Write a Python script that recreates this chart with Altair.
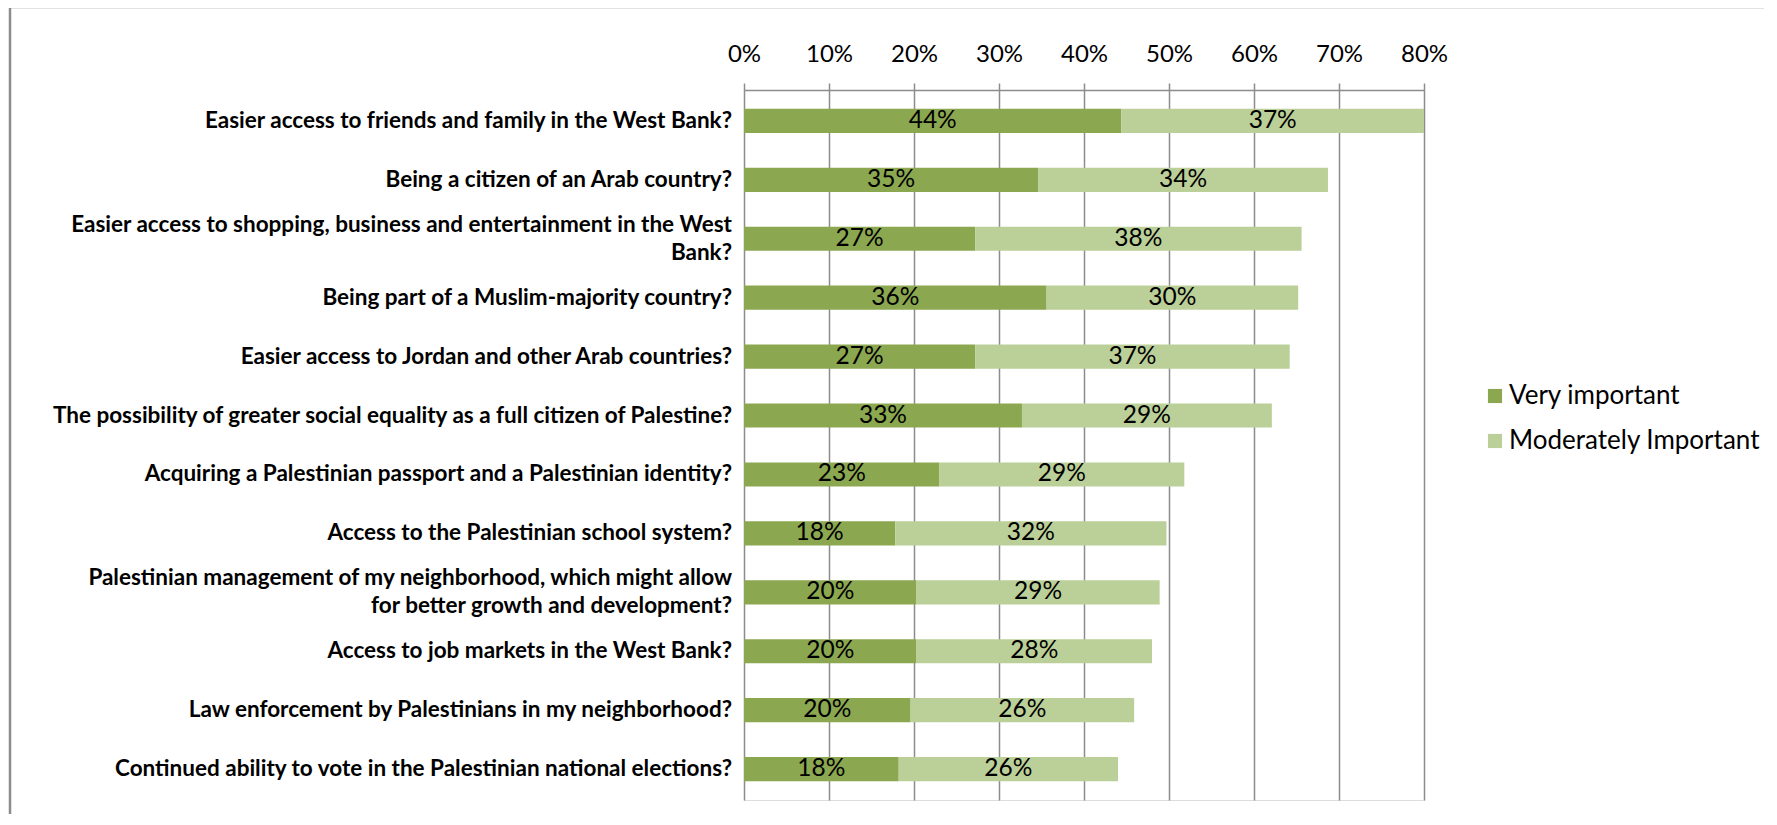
import altair as alt
import pandas as pd

categories = [
    "Easier access to friends and family in the West Bank?",
    "Being a citizen of an Arab country?",
    "Easier access to shopping, business and entertainment in the West\nBank?",
    "Being part of a Muslim-majority country?",
    "Easier access to Jordan and other Arab countries?",
    "The possibility of greater social equality as a full citizen of Palestine?",
    "Acquiring a Palestinian passport and a Palestinian identity?",
    "Access to the Palestinian school system?",
    "Palestinian management of my neighborhood, which might allow\nfor better growth and development?",
    "Access to  job markets in the West Bank?",
    "Law enforcement by Palestinians in my neighborhood?",
    "Continued ability to vote in the Palestinian national elections?",
]
very_important = [0.444, 0.346, 0.272, 0.356, 0.272, 0.327, 0.230, 0.178, 0.203, 0.203, 0.196, 0.182]
moderately_important = [0.366, 0.341, 0.384, 0.296, 0.370, 0.294, 0.288, 0.319, 0.286, 0.277, 0.263, 0.258]
series_names = ["Very important", "Moderately Important"]
series_colors = ["#8BA74F", "#BBCF98"]
x_ticks = [0, 0.1, 0.2, 0.3, 0.4, 0.5, 0.6, 0.7, 0.8]

rows = []
for q, v, m in zip(categories, very_important, moderately_important):
    rows.append({"q": q, "series": series_names[0], "value": v, "ord": 0})
    rows.append({"q": q, "series": series_names[1], "value": m, "ord": 1})
df = pd.DataFrame(rows)
cat_df = pd.DataFrame({"q": categories})

FONT = "Lato"
GRID = "#8c8c8c"

base = alt.Chart(df).transform_stack(
    stack="value", groupby=["q"], as_=["x0", "x1"], sort=[alt.SortField("ord")]
).transform_calculate(
    mid="(datum.x0 + min(datum.x1, 0.8)) / 2"
)

yenc = alt.Y(
    "q:N",
    sort=categories,
    title=None,
    scale=alt.Scale(paddingInner=0.59, paddingOuter=0.32),
    axis=alt.Axis(
        labels=False,
        tickBand="extent",
        tickSize=6,
        tickColor=GRID,
        tickWidth=1.5,
        domainColor=GRID,
        domainWidth=1.5,
        grid=False,
    ),
)

bars = base.mark_bar(clip=True).encode(
    y=yenc,
    x=alt.X(
        "x0:Q",
        title=None,
        scale=alt.Scale(domain=[0, 0.8], nice=False),
        axis=alt.Axis(
            orient="top",
            format=".0%",
            values=x_ticks,
            labelFont=FONT,
            labelFontSize=24,
            labelColor="black",
            labelPadding=17,
            labelFlush=False,
            labelOverlap=False,
            tickSize=7,
            tickColor=GRID,
            tickWidth=1.5,
            domainColor=GRID,
            domainWidth=1.5,
            grid=True,
            gridColor=GRID,
            gridWidth=1.5,
        ),
    ),
    x2="x1:Q",
    color=alt.Color(
        "series:N",
        sort=series_names,
        scale=alt.Scale(domain=series_names, range=series_colors),
        legend=alt.Legend(
            title=None,
            orient="none",
            legendX=738,
            legendY=293,
            symbolType="square",
            symbolSize=200,
            symbolStrokeWidth=0,
            labelFont=FONT,
            labelFontSize=26,
            labelColor="black",
            labelLimit=0,
            rowPadding=19,
            labelOffset=1,
        ),
    ),
)

labels = base.mark_text(font=FONT, fontSize=24.5, color="black", baseline="middle").encode(
    y=alt.Y("q:N", sort=categories, axis=None),
    x=alt.X("mid:Q"),
    text=alt.Text("value:Q", format=".0%"),
)

ylab_style = dict(font=FONT, fontSize=22.5, fontWeight="bold", color="black",
                  align="right", baseline="middle", lineBreak="\n", lineHeight=28)
ylab_single = alt.Chart(cat_df).transform_filter(
    "indexof(datum.q, '\\n') < 0"
).mark_text(**ylab_style).encode(
    y=alt.Y("q:N", sort=categories, axis=None),
    x=alt.value(-12),
    text="q:N",
)
ylab_multi = alt.Chart(cat_df).transform_filter(
    "indexof(datum.q, '\\n') >= 0"
).mark_text(dy=-14, **ylab_style).encode(
    y=alt.Y("q:N", sort=categories, axis=None),
    x=alt.value(-12),
    text="q:N",
)

frame_df = pd.DataFrame({"k": [0]})
left_line = alt.Chart(frame_df).mark_rule(color="#8c8c8c", strokeWidth=2.5).encode(
    x=alt.value(-734), y=alt.value(-83), y2=alt.value(740)
)
top_line = alt.Chart(frame_df).mark_rule(color="#8c8c8c", strokeWidth=2.5).encode(
    x=alt.value(-734), x2=alt.value(1040), y=alt.value(-83)
)

chart = alt.layer(bars, labels, ylab_single, ylab_multi, left_line, top_line).properties(
    width=680,
    height=710,
    autosize=alt.AutoSizeParams(type="none"),
    padding={"left": 736, "top": 82, "right": 340, "bottom": 14},
).configure_view(stroke=None).configure(font=FONT)

chart.save("out.html", embed_options={"renderer": "svg", "actions": False})
